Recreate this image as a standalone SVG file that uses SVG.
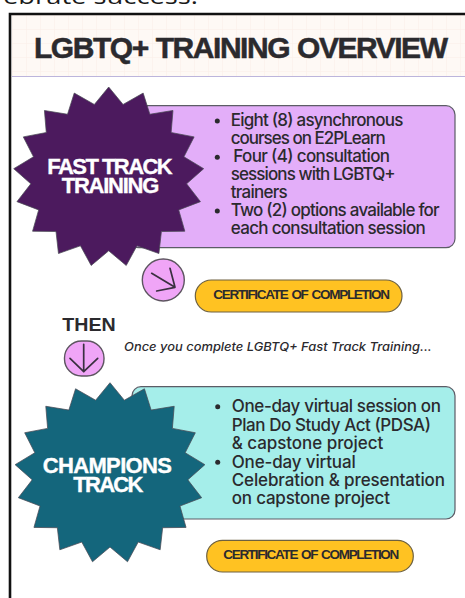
<svg xmlns="http://www.w3.org/2000/svg" xmlns:xlink="http://www.w3.org/1999/xlink" width="465" height="598" viewBox="0 0 465 598">
<style>
text{font-family:"Inter","Liberation Sans",sans-serif;fill:#2b2a2e}
.title{font-family:"Liberation Sans",Arial,sans-serif;font-size:30px;font-weight:700;stroke:#2b2a2e;stroke-width:.5px;word-spacing:1px}
.star-t{font-family:"Liberation Sans",Arial,sans-serif;font-size:22px;font-weight:700;fill:#fff;stroke:#fff;stroke-width:.35px}
.body{font-size:17px;font-weight:500}
.pill{fill:#ffc222;stroke:#6e6140;stroke-width:1.2}
.pill-t{font-family:"Liberation Sans",Arial,sans-serif;font-size:13.5px;font-weight:700;word-spacing:1.5px}
.box{stroke:#5c5c66;stroke-width:1.2}
.bullet{fill:#2b2a2e}
.star{stroke:#4a4a55;stroke-width:.8;vector-effect:non-scaling-stroke}
.icon{fill:#f0a5f7;stroke:#5d5560;stroke-width:1.4}
.arrow{fill:none;stroke:#3a3040;stroke-width:1.7;stroke-linecap:round;stroke-linejoin:round}
</style>
<defs>
<pattern id="grid" width="14" height="14" patternUnits="userSpaceOnUse" x="12" y="15">
<path d="M14 0H0V14" fill="none" stroke="#f9eee8" stroke-width="1"/>
</pattern>
<polygon id="burst" points="0,-100 15.06,-80.6 36.12,-93.25 43.16,-69.72 67.37,-73.9 65.44,-49.41 89.52,-44.57 78.87,-22.44 99.57,-9.23 81.65,7.57 96.18,27.37 73.41,36.55 79.8,60.26 55.24,60.6 52.64,85.02 29.62,76.47 18.37,98.3 0,82 -18.37,98.3 -29.62,76.47 -52.64,85.02 -55.24,60.6 -79.8,60.26 -73.41,36.55 -96.18,27.37 -81.65,7.57 -99.57,-9.23 -78.87,-22.44 -89.52,-44.57 -65.44,-49.41 -67.37,-73.9 -43.16,-69.72 -36.12,-93.25 -15.06,-80.6"/>
</defs>
<rect width="465" height="598" fill="#fff"/>
<text x="3" y="3.5" font-size="21" textLength="195" lengthAdjust="spacingAndGlyphs" style="font-family:'Open Sans','Liberation Sans',sans-serif;fill:#1a1a1a">ebrate success.</text>
<g id="frame">
<rect x="12" y="15" width="453" height="61" fill="#fef9f5"/>
<rect x="12" y="15" width="453" height="61" fill="url(#grid)"/>
<path d="M12 76.5H465" stroke="#bcb5dc" stroke-width="1.2"/>
<path d="M10 598V14H465" fill="none" stroke="#111" stroke-width="2.6"/>
</g>
<g id="title"><text class="title" x="34" y="58.3" textLength="414" lengthAdjust="spacing">LGBTQ+ TRAINING OVERVIEW</text></g>
<g id="fast-track-box">
<rect class="box" x="130" y="105.7" width="325" height="142" rx="9" fill="#e3aef9"/>
<circle class="bullet" cx="217.3" cy="121" r="2.5"/>
<circle class="bullet" cx="217.3" cy="157.3" r="2.5"/>
<circle class="bullet" cx="217.3" cy="211" r="2.5"/>
<text class="body" x="230.7" y="125.7" textLength="172.7" lengthAdjust="spacing">Eight (8) asynchronous</text>
<text class="body" x="230.7" y="144" textLength="155" lengthAdjust="spacing">courses on E2PLearn</text>
<text class="body" x="233.3" y="162" textLength="156.7" lengthAdjust="spacing">Four (4) consultation</text>
<text class="body" x="230.7" y="180" textLength="165" lengthAdjust="spacing">sessions with LGBTQ+</text>
<text class="body" x="230.7" y="197.5" textLength="57" lengthAdjust="spacing">trainers</text>
<text class="body" x="230.7" y="215.7" textLength="209" lengthAdjust="spacing">Two (2) options available for</text>
<text class="body" x="230.7" y="234" textLength="195" lengthAdjust="spacing">each consultation session</text>
</g>
<g id="fast-track-star">
<use href="#burst" class="star" fill="#4c1a5e" transform="translate(108.7 177) scale(.954 .9)"/>
<text class="star-t" x="47.3" y="174.3" textLength="125.4" lengthAdjust="spacing">FAST TRACK</text>
<text class="star-t" x="61.7" y="193.3" textLength="97.6" lengthAdjust="spacing">TRAINING</text>
</g>
<g id="certificate-1">
<rect class="pill" x="195.3" y="280" width="206.7" height="32" rx="16"/>
<text class="pill-t" x="213.3" y="299" textLength="176.7" lengthAdjust="spacing">CERTIFICATE OF COMPLETION</text>
</g>
<g id="then"><text x="62.3" y="331" font-size="18" font-weight="700" textLength="53.4" lengthAdjust="spacingAndGlyphs" style="font-family:'Liberation Sans',Arial,sans-serif">THEN</text></g>
<g id="note"><text x="124" y="350.7" font-size="12" font-weight="500" font-style="italic" textLength="307.7" lengthAdjust="spacingAndGlyphs">Once you complete LGBTQ+ Fast Track Training...</text></g>
<g id="champions-box">
<rect class="box" x="132" y="386.7" width="323" height="132.3" rx="9" fill="#a5eeea"/>
<circle class="bullet" cx="217.7" cy="406.7" r="2.5"/>
<circle class="bullet" cx="217.7" cy="462.3" r="2.5"/>
<text class="body" x="231.7" y="412.3" textLength="209.3" lengthAdjust="spacing">One-day virtual session on</text>
<text class="body" x="231.7" y="431" textLength="199.3" lengthAdjust="spacing">Plan Do Study Act (PDSA)</text>
<text class="body" x="231.7" y="449.3" textLength="151.6" lengthAdjust="spacing">&amp; capstone project</text>
<text class="body" x="231.7" y="467.7" textLength="124" lengthAdjust="spacing">One-day virtual</text>
<text class="body" x="231.7" y="486.3" textLength="213.3" lengthAdjust="spacing">Celebration &amp; presentation</text>
<text class="body" x="231.7" y="504.3" textLength="158.3" lengthAdjust="spacing">on capstone project</text>
</g>
<g id="champions-star">
<use href="#burst" class="star" fill="#14667c" transform="translate(110 473) scale(.953 .903)"/>
<text class="star-t" x="42.7" y="473.3" textLength="129.3" lengthAdjust="spacing">CHAMPIONS</text>
<text class="star-t" x="73.3" y="491.7" textLength="70" lengthAdjust="spacing">TRACK</text>
</g>
<g id="certificate-2">
<rect class="pill" x="206.7" y="540.3" width="206.6" height="31.7" rx="15.8"/>
<text class="pill-t" x="223.3" y="559" textLength="176" lengthAdjust="spacing">CERTIFICATE OF COMPLETION</text>
</g>
<g id="connectors">
<g id="arrow-diagonal">
<circle class="icon" cx="163.3" cy="280" r="21"/>
<path class="arrow" d="M151.7 273.3L175 287.3M170 268.3L175 287.3L156.7 291"/>
</g>
<g id="arrow-down">
<rect class="icon" x="64.5" y="341" width="39.5" height="35" rx="17"/>
<path class="arrow" d="M83.7 344.3V371.7M70 358.3L83.7 371.7L97.7 358.3"/>
</g>
</g>
</svg>
